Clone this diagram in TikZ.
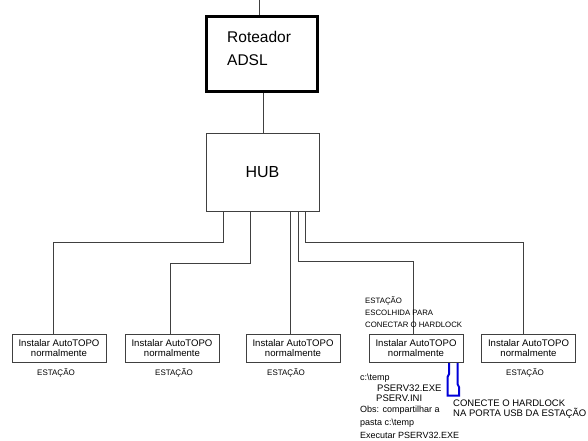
\documentclass[tikz,border=0pt]{standalone}
\usepackage{fontspec}
\setmainfont{Liberation Sans}
\begin{document}
\begin{tikzpicture}[x=1pt,y=-1pt,
  conn/.style={draw=black!75,line width=0.8pt},
  stbox/.style={draw=black!75,line width=0.8pt,minimum width=94pt,minimum height=28pt,inner sep=0pt,align=center,font=\fontsize{9.6}{9.5}\selectfont},
  lbl/.style={inner sep=0pt,font=\fontsize{8}{9}\selectfont},
  note/.style={inner sep=0pt,anchor=west,font=\fontsize{9}{10}\selectfont}]
\useasboundingbox (0,0) rectangle (588,440);
\fill[white] (0,0) rectangle (588,440);
% router and hub
\node[draw=black,line width=3pt,minimum width=111pt,minimum height=75pt,inner sep=0pt] (router) at (262,54) {};
\node[inner sep=0pt,anchor=west,align=left,font=\fontsize{15.5}{23}\selectfont] (rtext) at (227,48) {Roteador\\ADSL};
\node[draw=black!75,line width=0.8pt,minimum width=113pt,minimum height=78pt,inner sep=0pt,font=\fontsize{16}{18}\selectfont] (hub) at (262.5,172) {HUB};
\coordinate (top) at (259,0);
\draw[conn] (top) -- (top |- router.north);
\draw[conn] ([xshift=1]router.south) -- ([xshift=0.5]hub.north);
% stations
\node[stbox] (b1) at (59,348) {Instalar AutoTOPO\\normalmente};
\node[stbox] (b2) at (172,348) {Instalar AutoTOPO\\normalmente};
\node[stbox] (b3) at (293,348) {Instalar AutoTOPO\\normalmente};
\node[stbox] (b4) at (416,348) {Instalar AutoTOPO\\normalmente};
\node[stbox] (b5) at (528.5,348) {Instalar AutoTOPO\\normalmente};
\node[lbl] (e1) at (56,373) {ESTAÇÃO};
\node[lbl] (e2) at (174,373) {ESTAÇÃO};
\node[lbl] (e3) at (286,373) {ESTAÇÃO};
\node[lbl] (e5) at (525,373) {ESTAÇÃO};
% connectors
\draw[conn] ([xshift=-39.5]hub.south) -- ++(0,31) -| ([xshift=-6]b1.north);
\draw[conn] ([xshift=-12.5]hub.south) -- ++(0,52) -| ([xshift=-2]b2.north);
\draw[conn] ([xshift=27.5]hub.south) -- ([xshift=27.5]hub.south |- b3.north);
\draw[conn] ([xshift=35.5]hub.south) -- ++(0,50) -| ([xshift=-3]b4.north);
\draw[conn] ([xshift=42.5]hub.south) -- ++(0,31) -| ([xshift=-5.5]b5.north);
% chosen station notes
\node[lbl,anchor=west,align=left,font=\fontsize{7.8}{12}\selectfont] (esc) at (365,312) {ESTAÇÃO\\ESCOLHIDA PARA\\CONECTAR O HARDLOCK};
\node[note] (n1) at (360,378) {c:\textbackslash temp};
\node[note,font=\fontsize{9.5}{10}\selectfont] (n2) at (377,388.5) {PSERV32.EXE};
\node[note,font=\fontsize{9.5}{10}\selectfont] (n3) at (376,398) {PSERV.INI};
\node[note] (n4) at (360,410.5) {Obs: compartilhar a};
\node[note] (n5) at (360,423.5) {pasta c:\textbackslash temp};
\node[note] (n6) at (360,435.5) {Executar PSERV32.EXE};
\node[note,align=left,font=\fontsize{9.5}{10.5}\selectfont] (hl) at (453,409) {CONECTE O HARDLOCK\\NA PORTA USB DA ESTAÇÃO};
% USB plug
\draw[blue!85!black,line width=2pt,line join=miter] (449,363) -- (449,374) -- (447.5,377) -- (447.5,395.5) -- (459,395.5) -- (459,387) -- (457.5,384) -- (457.5,363);
\end{tikzpicture}
\end{document}
